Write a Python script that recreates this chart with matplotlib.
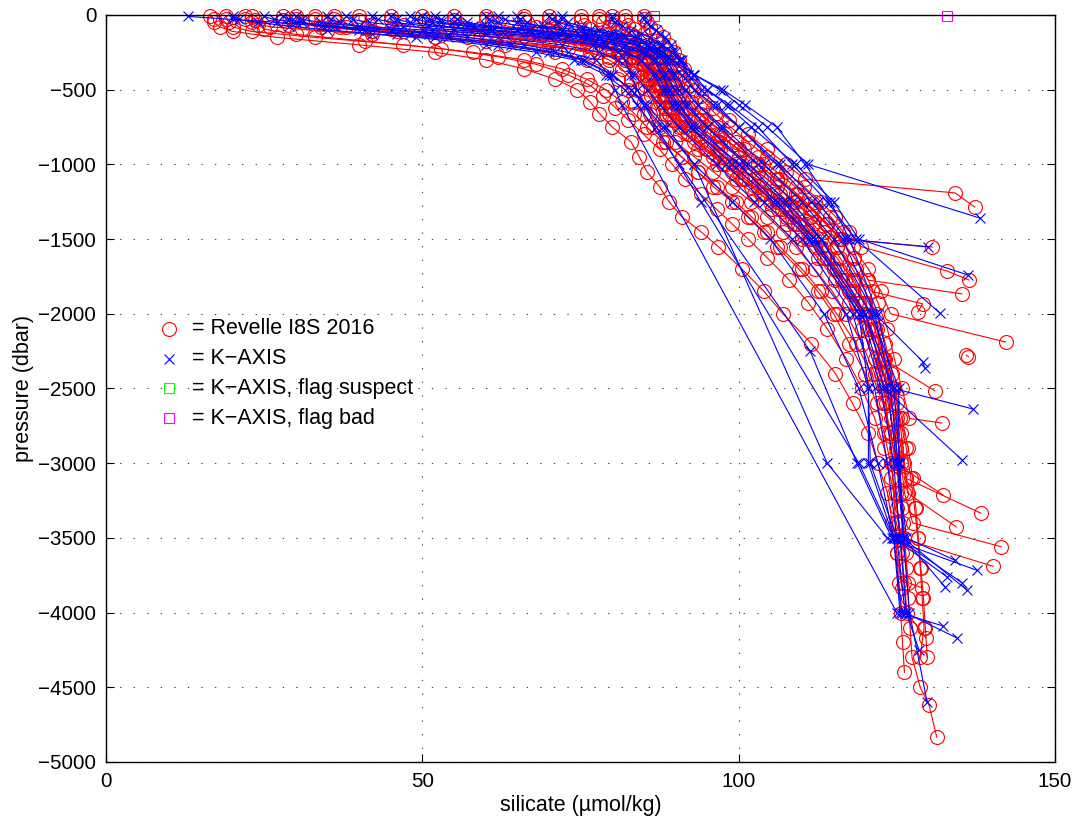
"""Silicate vs pressure: Revelle I8S 2016 bottle data against K-AXIS profiles."""

import matplotlib

matplotlib.use("Agg")
import matplotlib.pyplot as plt  # noqa: E402

plt.rcParams["font.family"] = ["Liberation Sans", "DejaVu Sans"]

# Revelle I8S 2016: two bottle-trip schemes (dbar)
REVELLE_LEVELS_A = [5, 25, 50, 80, 110, 150, 200, 250, 300, 360, 430, 500, 580, 660, 750,
                    850, 950, 1050, 1150, 1250, 1350, 1450, 1550, 1700, 1850, 2000, 2200,
                    2400, 2600, 2800, 3000, 3200, 3400, 3600, 3800, 4000, 4200, 4400, 4600]
REVELLE_LEVELS_B = [8, 35, 65, 95, 130, 175, 225, 280, 330, 400, 470, 540, 620, 700, 800,
                    900, 1000, 1100, 1200, 1300, 1400, 1500, 1625, 1775, 1925, 2100, 2300,
                    2500, 2700, 2900, 3100, 3300, 3500, 3700, 3900, 4100, 4300, 4500]

REVELLE_SCHEME = ["A", "B", "A", "B", "A", "B", "A", "B", "A", "B", "A",
                  "B", "A", "B", "A", "B", "A", "B", "A", "A", "B"]

# silicate (umol/kg) per station, one value per level from the surface down
REVELLE_SIL = [
    [16.5, 17, 17, 18, 20, 27, 40, 52, 60, 66, 71, 74.5, 76.5, 78, 80, 83, 84.3, 85.5, 87.5, 89,
     91, 94, 96.8, 100.5, 104, 107, 111.5, 115.3, 118, 120.5, 122, 123.5, 124.3, 125],
    [23, 23.5, 24, 25, 30, 41, 53, 62, 68, 73, 76.5, 78.5, 80.5, 82.5, 85, 87.5, 89.5, 91.5, 94,
     96.5, 99, 101.5, 104.5, 108, 111, 114, 117, 119.5, 121.5, 123, 124, 125, 125.6],
    [19, 19, 19.5, 20, 23, 33, 47, 58, 66, 72, 76, 79, 81.5, 83.5, 85.5, 88, 91, 93.5, 96, 99,
     101.5, 104, 106, 109.5, 112.5, 115, 117.5, 120, 121.8, 123, 124, 124.8, 125.3, 125.8,
     126.2, 126.6],
    [28, 28, 29, 31, 42, 60, 73, 79.5, 82, 84, 85.2, 86.2, 87.2, 88.3, 90.7, 93.5, 96.5, 99.5,
     102.5, 105.2, 107.7, 110, 112.5, 115.3, 117.5, 119.5, 121.5, 123.1, 124.1, 124.9, 125.4,
     125.8, 126.1, 126.5, 126.8, 127.1, 127.4, 128.7],
    [33, 33, 34, 37, 46, 63, 76, 81, 83.5, 85, 86, 87, 88, 89, 91.5, 94, 97, 100, 103, 106,
     108.5, 111, 113, 115.5, 118, 120, 121.5, 122.5, 123.3, 123.8, 124.2, 124.5, 124.8, 125,
     125.3, 125.6, 125.9, 126.2],
    [40, 40, 41.5, 45, 56, 70, 79, 83, 85, 86.5, 87.5, 88.3, 89.2, 90.5, 93.5, 97, 100.5, 103.5,
     106.5, 109.2, 111.7, 114, 116, 118.3, 120, 121.8, 123.2, 124.4, 125.5, 126.5, 127.2, 127.8,
     128.3, 128.7, 129, 129.3],
    [22, 22, 23, 26, 35, 52, 69, 78, 82, 84, 85.5, 86.5, 87.5, 88.5, 90.5, 93, 96, 99, 102, 105,
     107.5, 110, 112, 115, 117.5, 119.5, 121.5, 123, 124.2, 125, 125.7, 126.2, 127.5],
    [50, 50.5, 52, 56, 65, 75, 81, 84, 85.5, 86.5, 87.5, 88.3, 89.3, 91, 93.5, 96.5, 99.5, 102.5,
     105.5, 108.2, 110.7, 113, 115.5, 118, 119.8, 121.5, 123, 124.3, 125.1, 125.7, 126.4],
    [60, 60, 61, 64, 70, 78, 83, 85, 86.5, 87.3, 88, 88.7, 89.5, 91, 93.5, 96.5, 100, 103, 106,
     109, 111.5, 113.5, 115.5, 118, 120, 121.8, 123.2, 124.3, 125.1, 125.7, 126.2, 126.7],
    [70, 70, 70.5, 72, 75, 79.5, 83, 85.5, 87, 88, 89, 90, 91.5, 93.5, 96.5, 100, 103, 106, 109,
     111.5, 114, 116, 118.3, 120.5, 122, 123.5, 124.6, 125.8, 127],
    [78, 78, 78.5, 79.5, 81, 83.5, 85.5, 87, 88, 89, 90, 91, 92.5, 94, 96.5, 99.5, 103, 106, 109,
     112, 114.5, 116.5, 118, 120.5, 122.5, 124],
    [82, 82, 82.5, 83.5, 85, 87, 88.5, 89.5, 90.5, 91.5, 92.5, 94, 96, 98.5, 101.5, 104.5,
     107.5, 110.5],
    [85, 85, 85.5, 86, 87, 88, 89, 89.8, 90.5, 91.3, 92.2, 93, 94.5, 96.3, 98.7, 101.5, 104.5,
     107.5, 110.3, 113, 115.3, 117.5, 119.3],
    [75, 75, 75.5, 76.5, 79, 82.5, 85, 86.5, 87.5, 88.5, 89.5, 90.5, 92, 94, 97, 100, 103, 106,
     109, 111.5, 113.8, 116, 118.3, 120.5],
    [66, 66, 66.5, 68, 71, 76, 80.5, 83.5, 85.3, 86.5, 87.5, 88.5, 90, 91.5, 94, 97, 100, 103,
     106, 108.8, 111.3, 113.5, 115.5, 118.5, 121],
    [45, 45, 47, 51, 60, 72, 79.5, 83, 84.5, 85.5, 86.5, 87.3, 88.3, 89.5, 92, 95, 98, 101, 104,
     106.8, 109.3, 111.5, 114, 116.8, 119, 121, 122.8],
    [30, 30, 31, 34, 42, 57, 70, 76.5, 79.5, 81.5, 83, 84, 85, 86, 87.5, 90, 93, 96, 99, 102,
     104.5, 107, 109, 112, 114.8, 117, 119.5, 121.5, 123, 124, 124.8],
    [55, 55, 56, 59, 67, 76, 81, 83.5, 85, 86, 86.8, 87.5, 88.4, 89.8, 92, 94.8, 97.5, 100.5,
     103.5, 106.2, 108.7, 111, 113.5, 116.3, 118.5, 120.5, 122.3, 124.5, 125.8, 126.8, 127.5,
     128, 128.4, 128.8, 129.2, 129.5, 129.8],
    [],
    [36, 36, 36.5, 38, 42, 52, 63, 71, 76, 79, 81, 82.5, 83.5, 85, 86.5, 88.5, 91, 93.5, 96.5,
     99.5, 102, 104.5, 106.5, 110, 113, 115.5, 118.5, 121, 122.8, 124, 125, 125.6, 126, 126.4,
     126.8],
    [80, 80, 80.5, 81.5, 83, 85, 86.5, 87.5, 88.3, 89, 90, 91.2, 92.8, 94.8, 97.8, 100.8, 103.8,
     106.5, 109.3, 111.8, 114, 116.3],
]

# near-bottom bottles below the last regular level
REVELLE_BOTTOM_PRES = [[3835], [3690], [4170], [4620, 4833], [], [4297], [3559], [3335],
                       [3427], [2731], [2189], [1191, 1285], [1713, 1774], [1867],
                       [1934, 1988], [2516], [3213], [], [2278, 2286], [3835], [1553]]
REVELLE_BOTTOM_SIL = [[125.8], [140.2], [129.6], [130.1, 131.3], [], [128.7], [141.5], [138.3],
                      [134.4], [132.1], [142.2], [134.2, 137.3], [132.9, 136.4], [135.3],
                      [129.1, 128.3], [131], [132.3], [], [136.0, 136.3], [129], [130.6]]

# K-AXIS standard pressures (dbar)
KAXIS_LEVELS = [10, 30, 50, 75, 100, 125, 150, 200, 250, 300, 400, 500, 600, 750, 1000,
                1250, 1500, 2000, 2500, 3000, 3500, 4000]

KAXIS_SIL = [
    [13, 20, 27, 34, 41, 48, 54, 64, 71, 75.5, 80, 83, 85, 88, 93, 99, 105, 113.5, 119, 122,
     124.5, 125.5],
    [30, 31, 34, 40, 50, 60, 68, 77, 82, 84.5, 87, 88.5, 90, 92.5, 98, 104, 110, 118, 121.5,
     123.5, 125, 126.3],
    [45, 46, 48, 53, 61, 69, 75, 82, 85.5, 87, 88.5, 90, 91.5, 95, 101, 107, 112, 119, 122.5,
     124.5, 125.5, 126.5],
    [55, 55.5, 57, 61, 67, 73, 78, 84, 87, 88.5, 90, 91.5, 93.5, 97, 103, 108.5, 113, 120, 123.5,
     125, 126, 127],
    [65, 65.5, 66.5, 68.5, 72, 76, 79.5, 84, 87, 89.5, 93, 97.5, 101, 106, 110.5, 114.5, 117.5,
     122, 124.5],
    [72, 72, 73, 75, 78, 81, 84, 87.5, 89.5, 91, 93, 97, 100, 104.5, 111],
    [80, 80, 80.5, 81.5, 83, 84.5, 86, 88, 89.5, 90.5, 92.8, 95, 98, 102, 109, 115, 119],
    [85, 85, 85.5, 86, 87, 87.5, 88.3, 89.3, 90, 90.8, 92, 94, 96.5, 100, 106.5, 112.5, 117],
    [50, 51, 53, 58, 65, 71, 76, 82, 85, 86.5, 88, 89, 90.5, 93.5, 100, 106, 111.5, 119.5, 123],
    [38, 39, 41.5, 47, 55, 63, 70, 78, 82.5, 84.5, 86.5, 88, 89.5, 92.5, 99, 105.5, 111, 119,
     120.5, 120.5, 124.5],
    [60, 60.5, 62, 66, 72, 77, 81, 85.5, 87.5, 88.5, 90, 91.5, 93.5, 97.5, 104, 110, 115, 121.5,
     124, 125.2, 126.5],
    [25, 26.5, 30, 36, 45, 54, 62, 72, 78, 81, 83.5, 85.5, 87.5, 90.5, 96.5, 102.5, 108.5, 117,
     120.5, 120.8, 125],
    [70, 70.5, 71.5, 73.5, 76.5, 79.5, 82, 85.5, 88, 89.5, 92, 95, 98.5, 103, 108.5, 114, 118.5],
    [42, 43, 45.5, 51, 59, 67, 73, 80.5, 84.5, 86.5, 88, 89, 90.5, 93, 100, 106, 112, 120, 124.5,
     125.5, 126],
    [35, 35.5, 37, 40, 45, 51, 57, 66, 73, 77.5, 79.5, 80.5, 81.5],
    [20, 21, 24, 29, 35, 42, 49, 60, 68, 74, 79, 82, 84],
    [48, 49, 51.5, 57, 65, 71, 75, 79, 81, 82, 83, 84, 85, 87, 90.5, 94],
    [28, 29, 31, 35, 40, 46, 52, 62, 70, 75, 80, 83, 85.5, 88.5, 93],
    [62, 63, 65, 69, 75, 80, 83.5, 86.5, 88, 89, 91, 93, 96, 100, 106, 111.5, 116.5, 121.5],
    [52, 53, 55, 60, 67, 73, 78, 84, 86.5, 88, 89.5, 90.5, 92, 95, 101.5, 107.5, 113, 121,
     125.3, 125.3, 126],
]

KAXIS_BOTTOM_PRES = [[4090], [4170], [4250], [4600], [2637], [1359], [1740], [1553], [2978],
                     [3760], [3650], [3800], [1995], [3850], [4000], [2250, 3000, 3500],
                     [3000, 3500, 4000], [3000, 3500, 3716], [2320, 2363], [3827]]
KAXIS_BOTTOM_SIL = [[132.3], [134.5], [128.5], [129.8], [137], [138.1], [136.2], [129.9],
                    [135.3], [132.9], [134.2], [135.3], [131.8], [136.1], [125],
                    [111.3, 118.7, 124.2], [119, 124.5, 125.8], [114, 123.5, 137.6],
                    [129.1, 129.4], [132.6]]

# K-AXIS samples flagged bad
FLAG_BAD_SIL = [86.6, 132.9]
FLAG_BAD_PRES = [5, 5]

LEGEND_LABELS = ["= Revelle I8S 2016", "= K\u2212AXIS", "= K\u2212AXIS, flag suspect",
                 "= K\u2212AXIS, flag bad"]
LEGEND_PRES = [2100, 2300, 2500, 2700]
LEGEND_SIL = 10


def _profiles(levels_by_station, sil, bottom_pres, bottom_sil):
    for levels, s, bp, bs in zip(levels_by_station, sil, bottom_pres, bottom_sil):
        pres = list(levels[: len(s)]) + list(bp)
        yield list(s) + list(bs), [-p for p in pres]


def main() -> None:
    fig = plt.figure(figsize=(10.76, 8.22), dpi=100)
    ax = fig.add_axes([0.0985, 0.073, 0.882, 0.9088])

    schemes = {"A": REVELLE_LEVELS_A, "B": REVELLE_LEVELS_B}
    red_levels = [schemes[k] for k in REVELLE_SCHEME]
    for x, y in _profiles(red_levels, REVELLE_SIL, REVELLE_BOTTOM_PRES, REVELLE_BOTTOM_SIL):
        ax.plot(x, y, color="red", lw=0.8, marker="o", ms=10, mfc="none", mew=0.8,
                clip_on=False)

    blue_levels = [KAXIS_LEVELS] * len(KAXIS_SIL)
    for x, y in _profiles(blue_levels, KAXIS_SIL, KAXIS_BOTTOM_PRES, KAXIS_BOTTOM_SIL):
        ax.plot(x, y, color="blue", lw=0.8, marker="x", ms=7.5, mew=0.8, clip_on=False)

    ax.plot(FLAG_BAD_SIL, [-p for p in FLAG_BAD_PRES], ls="none", marker="s", ms=7.5,
            mfc="none", mec="magenta", mew=0.8, clip_on=False)

    # hand-made legend inside the axes
    styles = [
        dict(marker="o", mec="red", ms=10),
        dict(marker="x", mec="blue", ms=7.5),
        dict(marker="s", mec="#00ff00", ms=7.5),
        dict(marker="s", mec="magenta", ms=7.5),
    ]
    for label, p, st in zip(LEGEND_LABELS, LEGEND_PRES, styles):
        ax.plot([LEGEND_SIL], [-p], ls="none", mfc="none", mew=0.8, **st)
        ax.text(LEGEND_SIL + 3.6, -p, label, va="center", ha="left", fontsize=15.5)

    ax.set_xlim(0, 150)
    ax.set_ylim(-5000, 0)
    ax.set_xticks([0, 50, 100, 150])
    ax.set_yticks(range(-5000, 1, 500))
    ax.grid(True, color="black", ls=(0, (1.2, 11)), lw=0.8, alpha=0.75)
    ax.tick_params(direction="in", length=6, width=0.8, top=True, right=True,
                   labelsize=14.8, pad=7)
    for spine in ax.spines.values():
        spine.set_linewidth(1.0)
    ax.set_xlabel("silicate (\u00b5mol/kg)", fontsize=15.5, labelpad=3)
    ax.set_ylabel("pressure (dbar)", fontsize=15.5, labelpad=3)

    fig.savefig("out.png", dpi=100)
    plt.close(fig)


if __name__ == "__main__":
    main()
